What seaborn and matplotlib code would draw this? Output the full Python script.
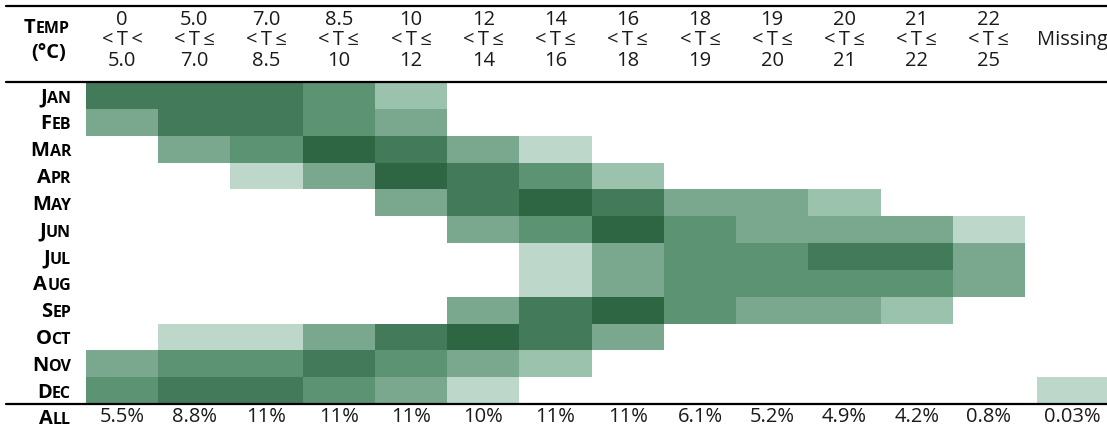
import matplotlib
matplotlib.use("Agg")
import matplotlib.pyplot as plt
import matplotlib.transforms as mtransforms
from matplotlib.colors import ListedColormap
from matplotlib.lines import Line2D
import seaborn as sns
import pandas as pd

# data
months = ["Jan", "Feb", "Mar", "Apr", "May", "Jun", "Jul", "Aug", "Sep", "Oct", "Nov", "Dec"]
lower_bounds = ["0", "5.0", "7.0", "8.5", "10", "12", "14", "16", "18", "19", "20", "21", "22"]
upper_bounds = ["5.0", "7.0", "8.5", "10", "12", "14", "16", "18", "19", "20", "21", "22", "25"]
# shade level per month and temperature bin (0 = no hours, 6 = most hours)
levels = [
    [5, 5, 5, 4, 2, 0, 0, 0, 0, 0, 0, 0, 0],
    [3, 5, 5, 4, 3, 0, 0, 0, 0, 0, 0, 0, 0],
    [0, 3, 4, 6, 5, 3, 1, 0, 0, 0, 0, 0, 0],
    [0, 0, 1, 3, 6, 5, 4, 2, 0, 0, 0, 0, 0],
    [0, 0, 0, 0, 3, 5, 6, 5, 3, 3, 2, 0, 0],
    [0, 0, 0, 0, 0, 3, 4, 6, 4, 3, 3, 3, 1],
    [0, 0, 0, 0, 0, 0, 1, 3, 4, 4, 5, 5, 3],
    [0, 0, 0, 0, 0, 0, 1, 3, 4, 4, 4, 4, 3],
    [0, 0, 0, 0, 0, 3, 5, 6, 4, 3, 3, 2, 0],
    [0, 1, 1, 3, 5, 6, 5, 3, 0, 0, 0, 0, 0],
    [3, 4, 4, 5, 4, 3, 2, 0, 0, 0, 0, 0, 0],
    [4, 5, 5, 4, 3, 1, 0, 0, 0, 0, 0, 0, 0],
]
missing_levels = [0, 0, 0, 0, 0, 0, 0, 0, 0, 0, 0, 1]
totals = ["5.5%", "8.8%", "11%", "11%", "11%", "10%", "11%", "11%", "6.1%", "5.2%", "4.9%", "4.2%", "0.8%"]
missing_total = "0.03%"

shades = ["#ffffff", "#bdd7ca", "#9bc2ac", "#79a88e", "#5c9372", "#437a5a", "#2e6644"]
cmap = ListedColormap(shades)

sns.set_style("white")
plt.rcParams["font.family"] = ["Open Sans", "DejaVu Sans"]

W, H = 1107, 432
fig = plt.figure(figsize=(W / 100, H / 100), dpi=100)
top_px, bot_px = 82, 404
ax = fig.add_axes([86 / W, 1 - bot_px / H, 939 / W, (bot_px - top_px) / H])
axm = fig.add_axes([1037 / W, 1 - bot_px / H, 70 / W, (bot_px - top_px) / H])

df = pd.DataFrame(levels, index=months, columns=upper_bounds)
sns.heatmap(df, ax=ax, cmap=cmap, vmin=-0.5, vmax=6.5, cbar=False,
            xticklabels=False, yticklabels=False)
dfm = pd.DataFrame({"Missing": missing_levels}, index=months)
sns.heatmap(dfm, ax=axm, cmap=cmap, vmin=-0.5, vmax=6.5, cbar=False,
            xticklabels=False, yticklabels=False)

txt_color = "#1a1a1a"
num_size = 14.5

# column headers
hdr = mtransforms.blended_transform_factory(ax.transData, fig.transFigure)
for i, (lo, hi) in enumerate(zip(lower_bounds, upper_bounds)):
    sign = "<\u2009T\u2009<" if i == 0 else "<\u2009T\u2009≤"
    ax.text(i + 0.5, 1 - 20 / H, lo, transform=hdr, ha="center", va="center",
            fontsize=num_size, color=txt_color)
    ax.text(i + 0.5, 1 - 40 / H, sign, transform=hdr, ha="center", va="center",
            fontsize=num_size, color=txt_color)
    ax.text(i + 0.5, 1 - 61 / H, hi, transform=hdr, ha="center", va="center",
            fontsize=num_size, color=txt_color)
    ax.text(i + 0.5, 1 - 417 / H, totals[i], transform=hdr, ha="center", va="center",
            fontsize=num_size, color=txt_color)

hdrm = mtransforms.blended_transform_factory(axm.transData, fig.transFigure)
axm.text(0.5, 1 - 40 / H, "Missing", transform=hdrm, ha="center", va="center",
         fontsize=num_size, color=txt_color)
axm.text(0.5, 1 - 417 / H, missing_total, transform=hdrm, ha="center", va="center",
         fontsize=num_size, color=txt_color)

lab = dict(fontweight="bold", color="black", family="Open Sans")


def small_caps(axis, x, y, word, trans, big=14.5, small=11.5, ha="right"):
    # fake small caps: first letter large, rest small
    first, rest = word[0].upper(), word[1:].upper()
    if ha == "right":
        r = axis.text(x, y, rest, transform=trans, ha="right", va="baseline",
                      fontsize=small, **lab)
        axis.annotate(first, xy=(0, y), xycoords=(r, trans), ha="right", va="baseline",
                      fontsize=big, annotation_clip=False, **lab)
    else:
        f = axis.text(x, y, first, transform=trans, ha="left", va="baseline",
                      fontsize=big, **lab)
        axis.annotate(rest, xy=(1, y), xycoords=(f, trans), ha="left", va="baseline",
                      fontsize=small, annotation_clip=False, **lab)


# month labels
rows = mtransforms.blended_transform_factory(fig.transFigure, ax.transData)
for j, m in enumerate(months):
    small_caps(ax, 71 / W, j + 0.77, m, rows)

small_caps(ax, 71 / W, 1 - 424 / H, "All", fig.transFigure)
small_caps(ax, 24 / W, 1 - 33 / H, "Temp", fig.transFigure, ha="left")
fig.text(49 / W, 1 - 53 / H, "(°C)", ha="center", va="center", fontsize=14.5, **lab)

# rules
for ypx in [6, top_px, bot_px]:
    fig.add_artist(Line2D([6 / W, 1], [1 - ypx / H, 1 - ypx / H], color="black",
                          lw=1.6, transform=fig.transFigure))

fig.savefig("out.png", dpi=100)
